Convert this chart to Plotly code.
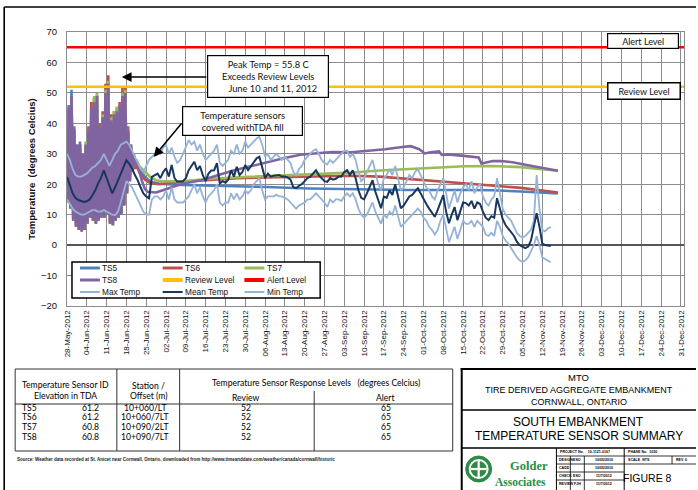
import plotly.graph_objects as go
import pandas as pd

# ---------------- data ----------------
weather_start = "2012-05-28"
max_temp = [
    30, 28, 25, 23, 22.5, 22.5, 23, 23.5, 24.5, 25.5,
    26, 27, 28, 30, 28, 26, 28, 30, 31, 33,
    33.5, 34, 33, 31, 29, 27, 25, 24, 26, 28,
    29, 30, 31, 30, 32, 33, 30, 32, 29, 27,
    28, 30, 32, 34.5, 33, 34, 31, 33, 30, 28,
    29, 30, 31, 33, 27, 26, 27, 28, 31, 30,
    33, 30, 31, 34, 32, 33, 34, 35, 35.6, 33,
    29, 30, 28, 29, 30, 29, 28, 29, 28, 27,
    24, 23, 25, 26, 28, 29, 30, 31, 31.5, 30,
    28, 27, 26.5, 28, 27, 28, 29, 30, 31, 31,
    29, 30, 28, 24, 21, 22, 24, 26, 28, 24,
    20, 18, 22, 23, 25, 23, 26, 22, 18, 19,
    21, 23, 22, 24, 25, 23, 21, 19, 18, 16,
    15, 18, 20, 22, 17, 12, 15, 18, 14, 17,
    19, 20, 18, 21, 17, 19, 20, 16, 14, 13,
    15, 16, 22, 17, 12, 10, 9, 8, 6, 4,
    3, 2.5, 3, 4, 5, 8, 23, 12, 5, 4.5,
    5.5, 6,
]
mean_temp = [
    22.4, 20.0, 17.0, 15.5, 14.8, 14.5, 14.2, 14.4, 15.0, 16.4,
    18.0, 20.3, 22.0, 24.6, 22.0, 19.5, 17.0, 19.0, 21.3, 23.5,
    26.0, 27.9, 26.7, 25.2, 23.0, 21.3, 19.0, 17.0, 16.0, 15.4,
    22.4, 23.0, 23.5, 22.0, 24.0, 25.2, 22.5, 26.3, 22.0, 20.8,
    20.8, 21.0, 22.0, 24.6, 26.0, 27.4, 24.6, 26.0, 23.0, 21.0,
    23.5, 24.5, 24.6, 26.9, 20.3, 21.0, 20.5, 21.5, 24.6, 22.5,
    25.7, 23.0, 24.0, 26.3, 24.6, 26.0, 27.5, 28.5, 29.0, 25.5,
    22.0, 23.5, 22.5, 22.8, 23.0, 23.0, 22.5, 22.5, 22.2, 21.5,
    19.0, 18.7, 19.5, 20.0, 21.0, 22.0, 22.5, 23.6, 24.6, 23.0,
    22.0, 21.0, 20.8, 22.0, 21.5, 21.8, 22.5, 22.5, 24.0, 24.6,
    23.0, 24.6, 22.0, 18.0, 15.5, 15.0, 17.0, 19.2, 21.3, 17.5,
    14.8, 12.1, 16.0, 15.5, 18.0, 16.5, 20.0, 15.5, 12.1, 13.0,
    14.5, 16.0, 16.5, 17.5, 18.7, 17.0, 15.0, 13.5, 12.0, 10.5,
    9.3, 11.5, 14.0, 16.4, 11.0, 7.2, 10.0, 12.5, 8.2, 11.5,
    14.0, 13.8, 13.0, 14.5, 12.0, 14.0, 13.5, 11.0, 9.0, 8.2,
    9.5, 9.0, 15.4, 12.0, 8.5, 6.6, 5.5, 4.4, 3.0, 1.1,
    0.0, -0.5, -1.0, -0.5, 1.5, 6.0, 10.5, 6.0, 0.5, 0.0,
    -0.2, -0.3,
]
min_temp = [
    15, 13.5, 12, 11, 10.5, 10, 10, 10.5, 11, 11.5,
    11.5, 11, 11, 11.5, 11, 10.5, 10, 9.8, 11, 14,
    18, 21, 20, 19, 17, 15, 13, 11, 10, 10,
    15, 16, 16, 15, 16, 18, 15, 19, 15, 14,
    14, 14, 15, 16, 18, 20, 17, 19, 16, 14,
    16, 17, 18, 20, 14, 13, 14, 14, 17, 15,
    17, 15, 16, 18, 17, 18, 20, 21, 22, 18,
    15, 16, 16, 16, 16.5, 16, 16, 15.5, 15, 14,
    13, 12, 13, 13.5, 14, 15, 15, 16, 17, 16,
    15, 14, 12.5, 15, 14, 15, 15, 14.5, 16, 17,
    16, 17, 15, 12, 10, 9, 10, 12, 14, 11,
    9, 7, 10, 9, 11, 10, 13, 9, 6, 7,
    8, 9, 10, 11, 12, 11, 9, 8, 6, 5,
    3.5, 5, 8, 10, 5, 1, 3.5, 6, 2, 5,
    8, 7, 7, 8, 6, 8, 7, 6, 3.5, 3,
    4, 3, 8, 6, 3, 1.5, 0.5, -1, -2.5, -4,
    -5, -5.5, -5, -4, -2, 0, 3, 0, -4, -4.5,
    -5, -5.6,
]

# sensors: daily high / low while exposed (from 28-May), then covered readings
ts_early_start = "2012-05-28"
ts5_daily_high = [46, 51, 39, 33, 33, 30, 32, 37, 46, 48, 49.5, 38, 40, 49, 52, 40, 42, 44, 45, 48, 49, 37, 32, 29, 27]
ts5_daily_low = [15, 12.5, 8.5, 6.5, 5.5, 5, 5.5, 7.5, 9.5, 8.5, 7.5, 8.5, 9.5, 9.5, 10.5, 7.5, 7, 8.5, 9.5, 10.5, 13.5, 17.5, 21.5, 24.5, 26]
ts6_daily_high = [44, 48, 37, 32, 33, 30, 33, 39, 47, 48.5, 49, 40, 44, 53, 55.8, 43, 44, 45, 47, 52, 52, 39, 33, 29, 26.5]
ts6_daily_low = [14.5, 12, 8, 6, 5, 4.5, 5, 7, 9, 8, 7, 8, 9, 9, 10, 7, 6.5, 8, 9, 10, 13, 17, 21, 24, 25]
ts7_daily_high = [44, 47, 37, 32, 33, 30, 34, 38, 44, 49, 50, 39, 43, 51, 54, 42, 44, 45.5, 46, 50, 51, 38, 33, 30, 28]
ts7_daily_low = [14, 12, 8, 6, 5, 4.5, 5, 7, 9, 8, 7, 8, 9, 9, 10, 7, 6.5, 8, 9, 10, 13, 17, 21, 24.5, 26.5]
ts8_daily_high = [45, 49, 38, 33, 34, 30, 33, 38, 45, 47, 49, 39, 42, 50, 53, 41, 43, 44, 46, 49, 50, 38, 33, 30, 27.5]
ts8_daily_low = [14, 12, 8, 6, 5, 4.5, 5, 7, 9, 8, 7, 8, 9, 9, 10, 7, 6.5, 8, 9, 10, 13, 17, 21, 24.5, 26]

ts5_dates = ["2012-06-22", "2012-06-24", "2012-06-26", "2012-06-29", "2012-07-07", "2012-07-22", "2012-08-06",
             "2012-08-21", "2012-09-05", "2012-09-25", "2012-10-15", "2012-10-25", "2012-11-04", "2012-11-17"]
ts5_values = [25.5, 22.5, 20.8, 20.2, 19.8, 19.5, 19.1, 18.6, 18.3, 18.1, 18.1, 18.0, 17.6, 17.0]
ts6_dates = ["2012-06-22", "2012-06-24", "2012-06-26", "2012-06-29", "2012-07-07", "2012-07-17", "2012-07-27",
             "2012-08-06", "2012-08-16", "2012-08-26", "2012-09-05", "2012-09-15", "2012-09-25", "2012-10-05",
             "2012-10-15", "2012-10-25", "2012-11-04", "2012-11-17"]
ts6_values = [24, 21.5, 20.3, 20.0, 20.8, 21.5, 22.0, 22.2, 22.4, 22.6, 22.8, 22.5, 21.8, 21.0, 20.3, 19.6, 18.8, 17.3]
ts7_dates = ["2012-06-22", "2012-06-24", "2012-06-26", "2012-06-28", "2012-06-30", "2012-07-07", "2012-07-17",
             "2012-07-27", "2012-08-06", "2012-08-16", "2012-08-26", "2012-09-05", "2012-09-15", "2012-09-25",
             "2012-10-05", "2012-10-15", "2012-10-25", "2012-11-04", "2012-11-17"]
ts7_values = [26, 24, 22.3, 21.3, 21.0, 21.0, 21.8, 22.3, 22.7, 23.0, 23.4, 23.8, 24.5, 25.0, 25.5, 25.9, 26.0, 25.6, 24.4]
ts8_dates = ["2012-06-22", "2012-06-23", "2012-06-24", "2012-06-25", "2012-06-28", "2012-06-30", "2012-07-02",
             "2012-07-05", "2012-07-09", "2012-07-14", "2012-07-19", "2012-07-25", "2012-07-31", "2012-08-06",
             "2012-08-12", "2012-08-18", "2012-08-24", "2012-08-29", "2012-09-05", "2012-09-11", "2012-09-17",
             "2012-09-23", "2012-09-26", "2012-09-29", "2012-10-01", "2012-10-03", "2012-10-06", "2012-10-07",
             "2012-10-09", "2012-10-14", "2012-10-19", "2012-10-20", "2012-10-21", "2012-10-23", "2012-10-25",
             "2012-10-28", "2012-11-01", "2012-11-06", "2012-11-10", "2012-11-17"]
ts8_values = [24.5, 21, 18.5, 17.5, 17.3, 17.8, 18.5, 19.5, 20.5, 21.3, 22.8, 24.4, 25.8, 27.2, 28.5, 29.7, 30.2,
              30.6, 30.5, 30.9, 31.5, 32.2, 32.5, 31.5, 30.1, 30.5, 30.8, 29.6, 29.8, 29.4, 29.1, 28.8, 26.8,
              27.2, 27.6, 27.6, 27.2, 26.3, 25.6, 24.4]

review_level = 52
alert_level = 65
axis_start = "2012-05-28"
axis_end = "2012-12-31"
y_ticks = [-20, -10, 0, 10, 20, 30, 40, 50, 60, 70]

table_rows = [
    ("TS5", "61.2", "10+060/LT", "52", "65"),
    ("TS6", "61.2", "10+060/7LT", "52", "65"),
    ("TS7", "60.8", "10+090/2LT", "52", "65"),
    ("TS8", "60.8", "10+090/7LT", "52", "65"),
]

# ---------------- layout helpers (pixel -> paper) ----------------
W, H = 698, 490
L, R, T, B = 67, 686, 32, 306


def px(x):
    return (x - L) / (R - L)


def py(y):
    return (B - y) / (B - T)


ARIAL = "Liberation Sans, Arial, sans-serif"
CALIBRI = "Lato, Carlito, sans-serif"

C_TS5, C_TS6, C_TS7, C_TS8 = "#4F81BD", "#C0504D", "#9BBB59", "#8064A2"
C_REV, C_ALERT = "#FFC000", "#FF0000"
C_MAXMIN, C_MEAN = "#95B3D7", "#17375E"

fig = go.Figure()

early_days = pd.date_range(ts_early_start, periods=len(ts5_daily_high), freq="D")


def sensor_series(high, low, dates, values):
    xs, ys = [], []
    for day, h, l in zip(early_days, high, low):
        xs += [day + pd.Timedelta(hours=5), day + pd.Timedelta(hours=14)]
        ys += [l, h]
    xs += [pd.Timestamp(d) + pd.Timedelta(hours=12) for d in dates]
    ys += list(values)
    return xs, ys


for name, hi, lo, dts, vals, col in [
    ("TS5", ts5_daily_high, ts5_daily_low, ts5_dates, ts5_values, C_TS5),
    ("TS6", ts6_daily_high, ts6_daily_low, ts6_dates, ts6_values, C_TS6),
    ("TS7", ts7_daily_high, ts7_daily_low, ts7_dates, ts7_values, C_TS7),
    ("TS8", ts8_daily_high, ts8_daily_low, ts8_dates, ts8_values, C_TS8),
]:
    xs, ys = sensor_series(hi, lo, dts, vals)
    fig.add_trace(go.Scatter(x=xs, y=ys, mode="lines", name=name,
                             line=dict(color=col, width=2.6)))

line_x = [pd.Timestamp(axis_start), pd.Timestamp(axis_end) + pd.Timedelta(hours=26)]
fig.add_trace(go.Scatter(x=line_x, y=[review_level, review_level], mode="lines",
                         name="Review Level", line=dict(color=C_REV, width=2.6)))
fig.add_trace(go.Scatter(x=line_x, y=[alert_level, alert_level], mode="lines",
                         name="Alert Level", line=dict(color=C_ALERT, width=2.6)))

wdates = pd.date_range(weather_start, periods=len(mean_temp), freq="D")
fig.add_trace(go.Scatter(x=wdates, y=max_temp, mode="lines", name="Max Temp",
                         line=dict(color=C_MAXMIN, width=1.8)))
fig.add_trace(go.Scatter(x=wdates, y=mean_temp, mode="lines", name="Mean Temp",
                         line=dict(color=C_MEAN, width=2)))
fig.add_trace(go.Scatter(x=wdates, y=min_temp, mode="lines", name="Min Temp",
                         line=dict(color=C_MAXMIN, width=1.8)))

tick_dates = pd.date_range(axis_start, axis_end, freq="7D")

fig.update_layout(
    width=W, height=H,
    margin=dict(l=L, r=W - R, t=T, b=H - B, pad=0),
    paper_bgcolor="white", plot_bgcolor="white",
    showlegend=False,
    font=dict(family=ARIAL, color="#000"),
)
fig.update_xaxes(
    type="date", range=line_x,
    tickvals=list(tick_dates), tickformat="%d-%b-%Y", tickangle=-90,
    tickfont=dict(size=8, color="#111", family=ARIAL),
    showgrid=True, gridcolor="#8c8c8c", gridwidth=1,
    showline=True, linecolor="#8c8c8c", linewidth=1, mirror=True,
    zeroline=False, ticks="",
)
fig.update_yaxes(
    range=[-20, 70], tickvals=y_ticks,
    tickfont=dict(size=9.5, color="#111", family=ARIAL),
    showgrid=True, gridcolor="#8c8c8c", gridwidth=1,
    showline=True, linecolor="#8c8c8c", linewidth=1, mirror=True,
    zeroline=True, zerolinecolor="#555555", zerolinewidth=1.5,
    ticks="", ticklabelstandoff=7,
    title=dict(text="<b>Temperature \u00a0(degrees Celcius)</b>",
               font=dict(size=9.5, family=ARIAL, color="#111"), standoff=3),
)

shapes = []
annotations = []


def hline(x0, x1, y, w=1, c="#000"):
    shapes.append(dict(type="line", xref="paper", yref="paper", x0=px(x0), x1=px(x1),
                       y0=py(y), y1=py(y), line=dict(color=c, width=w), layer="above"))


def vline(x, y0, y1, w=1, c="#000"):
    shapes.append(dict(type="line", xref="paper", yref="paper", x0=px(x), x1=px(x),
                       y0=py(y0), y1=py(y1), line=dict(color=c, width=w), layer="above"))


def text(x, y, s, size=9, family=ARIAL, xanchor="center", color="#000", **kw):
    annotations.append(dict(xref="paper", yref="paper", x=px(x), y=py(y), text=s,
                            showarrow=False, xanchor=xanchor, yanchor="middle",
                            font=dict(size=size, family=family, color=color), **kw))


def box(x, y, s, w, h, size=9.3, bw=1.2):
    annotations.append(dict(xref="paper", yref="paper", x=px(x), y=py(y), text=s,
                            xanchor="center", yanchor="middle",
                            showarrow=False, align="center", width=w, height=h,
                            bgcolor="white", bordercolor="#000", borderwidth=bw, borderpad=1,
                            font=dict(size=size, family=CALIBRI, color="#111")))


# ---- legend (drawn manually inside plot) ----
shapes.append(dict(type="rect", xref="paper", yref="paper", x0=px(72), x1=px(321),
                   y0=py(298), y1=py(262), line=dict(color="#000", width=1.5),
                   fillcolor="white", layer="above"))
legend_items = [
    ("TS5", C_TS5, 3), ("TS6", C_TS6, 3), ("TS7", C_TS7, 3),
    ("TS8", C_TS8, 3), ("Review Level", C_REV, 4), ("Alert Level", C_ALERT, 4),
    ("Max Temp", C_MAXMIN, 2), ("Mean Temp", C_MEAN, 2), ("Min Temp", C_MAXMIN, 2),
]
col_x = [80, 163, 245]
row_y = [268, 280, 292]
for i, (nm, col, w) in enumerate(legend_items):
    cx = col_x[i % 3]
    ry = row_y[i // 3]
    hline(cx, cx + 20, ry, w=w, c=col)
    text(cx + 20.5, ry, nm, size=8.3, xanchor="left", color="#111")

# ---- callout boxes ----
box(269, 76, "Peak Temp = 55.8 C<br>Exceeds Review Levels<br>\u00a0\u00a0\u00a0\u00a0June 10 and 11, 2012", 118, 39)
box(243.5, 121.5, "Temperature sensors<br>covered withTDA fill", 117, 26)
box(645, 40.5, "Alert Level", 68, 12, size=9)
box(645.5, 91, "Review Level", 69, 13, size=9, bw=1.5)
# arrows
annotations.append(dict(xref="paper", yref="paper", x=px(122), y=py(77), text="",
                        showarrow=True, ax=86, ay=0, arrowhead=2, arrowsize=1.3,
                        arrowwidth=1.5, arrowcolor="#000"))
annotations.append(dict(xref="paper", yref="paper", x=px(154), y=py(157), text="",
                        showarrow=True, ax=29, ay=-35, arrowhead=2, arrowsize=1.3,
                        arrowwidth=1.5, arrowcolor="#000"))

# ---- page frame ----
hline(4, 698, 7, w=1.6)
vline(4, 7, 490, w=1.6)

# ---- sensor table ----
tc = "#333333"
hline(15, 454, 369, w=1, c=tc)
hline(15, 454, 404, w=1, c=tc)
hline(15, 454, 451, w=1, c=tc)
vline(15, 369, 451, w=1, c=tc)
vline(454, 369, 451, w=1, c=tc)
vline(117, 369, 451, w=1, c=tc)
vline(180, 369, 451, w=1, c=tc)
vline(315, 391, 451, w=1, c=tc)
tf = 8.6
text(65, 385, "Temperature Sensor ID", size=tf, family=CALIBRI)
text(65, 396, "Elevation in TDA", size=tf, family=CALIBRI)
text(149, 386, "Station /", size=tf, family=CALIBRI)
text(149, 396, "Offset (m)", size=tf, family=CALIBRI)
text(317, 383, "Temperature Sensor Response Levels \u00a0 (degrees Celcius)", size=tf, family=CALIBRI)
text(247, 398, "Review", size=tf, family=CALIBRI)
text(387, 398, "Alert", size=tf, family=CALIBRI)
for i, (sid, elev, sta, rev, alr) in enumerate(table_rows):
    ry = 408 + i * 9.5
    text(20, ry, sid, size=tf, family=CALIBRI, xanchor="left")
    text(101, ry, elev, size=tf, family=CALIBRI, xanchor="right")
    text(145, ry, sta, size=tf, family=CALIBRI)
    text(247, ry, rev, size=tf, family=CALIBRI)
    text(387, ry, alr, size=tf, family=CALIBRI)
text(15, 459, "<b>Source: Weather data recorded at St. Anicet near Cornwall, Ontario, downloaded from "
     "http://www.timeanddate.com/weather/canada/cornwall/historic</b>", size=4.5, xanchor="left", color="#222")

# ---- title block ----
vline(463, 368, 490, w=2)
hline(462, 698, 369, w=2)
hline(463, 698, 410, w=1.5)
hline(463, 698, 448, w=1.5)
text(580.5, 377.5, "MTO", size=9.5)
text(580.5, 390, "TIRE DERIVED AGGREGATE EMBANKMENT", size=9)
text(580.5, 402, "CORNWALL, ONTARIO", size=9)
text(580.5, 422, "SOUTH EMBANKMENT", size=12)
text(580.5, 436, "TEMPERATURE SENSOR SUMMARY", size=12)

# info grid
vline(558, 448, 490, w=1)
vline(626, 448, 490, w=1)
for yy in [456, 464, 472, 480]:
    hline(558, 626, yy, w=0.8)
vline(572, 456, 490, w=0.8)
vline(586, 456, 490, w=0.8)
hline(626, 698, 456, w=0.8)
hline(626, 698, 464, w=0.8)
vline(674, 456, 464, w=0.8)
small = 3.6
text(559.5, 452, "<b>PROJECT No. \u00a0 \u00a010-1121-0167</b>", size=small, xanchor="left")
for i, (lab, ini, dt) in enumerate([("DESIGN", "ESO", "10/05/2010"), ("CADD", "", "10/05/2010"),
                                     ("CHECK", "ESO", "11/7/2012"), ("REVIEW", "FJH", "11/7/2012")]):
    ry = 460 + 8 * i
    text(559, ry, "<b>%s</b>" % lab, size=small, xanchor="left")
    if ini:
        text(579, ry, "<b>%s</b>" % ini, size=small)
    text(606, ry, "<b>%s</b>" % dt, size=small)
text(628, 452, "<b>PHASE No. \u00a01030</b>", size=small, xanchor="left")
text(628, 460, "<b>SCALE \u00a0NTS</b>", size=small, xanchor="left")
text(676, 460, "<b>REV. 0</b>", size=small, xanchor="left")
text(649, 478, "FIGURE 8", size=10.5)

# logo
GREEN = "#2E8B44"
shapes.append(dict(type="circle", xref="paper", yref="paper", x0=px(467), x1=px(493),
                   y0=py(482), y1=py(456), fillcolor=GREEN, line=dict(color=GREEN, width=1), layer="above"))
shapes.append(dict(type="circle", xref="paper", yref="paper", x0=px(471), x1=px(489),
                   y0=py(478), y1=py(460), fillcolor="rgba(0,0,0,0)", line=dict(color="white", width=2), layer="above"))
vline(480, 460, 478, w=2.2, c="white")
hline(472, 488, 469, w=2.2, c="white")
text(530, 466, "<b>Golder</b>", size=12.5, family="Liberation Serif, serif", color=GREEN)
text(522, 482, "<b>Associates</b>", size=11.5, family="Liberation Serif, serif", color=GREEN)

fig.update_layout(shapes=shapes, annotations=annotations)
fig.write_html("out.html")
